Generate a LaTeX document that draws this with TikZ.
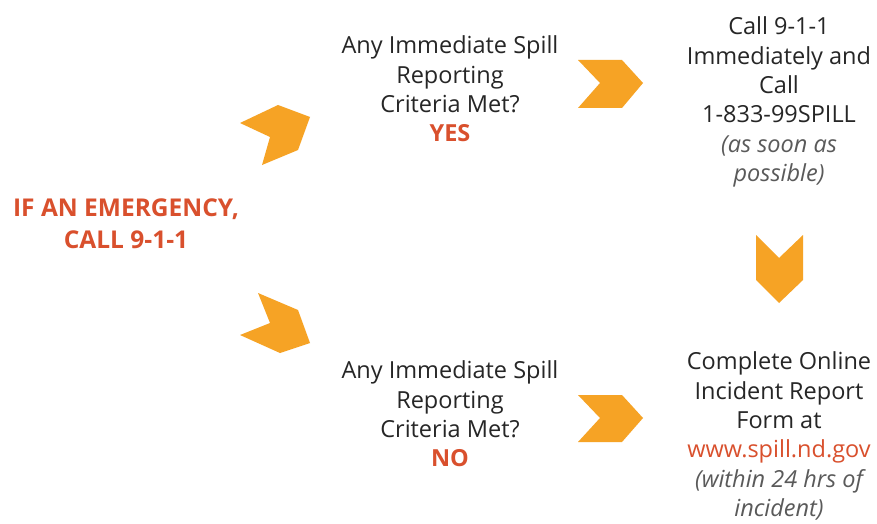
\documentclass[tikz,border=0pt]{standalone}
\usepackage{fontspec}
\setmainfont{Open Sans}
\definecolor{chev}{HTML}{F6A325}
\definecolor{redtxt}{HTML}{D9502D}
\definecolor{maintxt}{HTML}{262626}
\definecolor{greytxt}{HTML}{5A5A5A}
\tikzset{
  chevron/.style={fill=chev, draw=none},
  txt/.style={align=center, text=maintxt, font=\fontsize{23.5}{29.3}\selectfont, inner sep=0pt},
  emerg/.style={align=center, text=redtxt, font=\fontsize{24.5}{32}\selectfont\bfseries, inner sep=0pt}
}
\begin{document}
\begin{tikzpicture}[x=1pt,y=-1pt]
\useasboundingbox[fill=white] (0,0) rectangle (877,524);
% chevrons
\fill[chevron] (240,123) -- (278,105) -- (310,117) -- (298,150) -- (262,165) -- (270,137) -- cycle;
\fill[chevron] (258,293) -- (298,310) -- (310,343) -- (280,353) -- (240,335) -- (270,323) -- cycle;
\fill[chevron] (578,60) -- (622,60) -- (643,83) -- (622,108) -- (578,108) -- (600,83) -- cycle;
\fill[chevron] (578,395) -- (622,395) -- (643,418) -- (622,442) -- (578,442) -- (600,418) -- cycle;
\fill[chevron] (756,235) -- (779,258) -- (803,235) -- (803,280) -- (779,303) -- (756,280) -- cycle;
% texts
\node[emerg] (emergency) at (126,224) {IF AN EMERGENCY,\\CALL 9-1-1};
\node[txt] (yesq) at (450,89) {Any Immediate Spill\\Reporting\\Criteria Met?\\{\bfseries\color{redtxt}YES}};
\node[txt] (noq) at (450,414) {Any Immediate Spill\\Reporting\\Criteria Met?\\{\bfseries\color{redtxt}NO}};
\node[txt] (call) at (779,102) {Call 9-1-1\\Immediately and\\Call\\1-833-99SPILL\\{\itshape\color{greytxt}(as soon as}\\{\itshape\color{greytxt}possible)}};
\node[txt] (report) at (779,436) {Complete Online\\Incident Report\\Form at\\{\color{redtxt}www.spill.nd.gov}\\{\itshape\color{greytxt}(within 24 hrs of}\\{\itshape\color{greytxt}incident)}};
\end{tikzpicture}
\end{document}
